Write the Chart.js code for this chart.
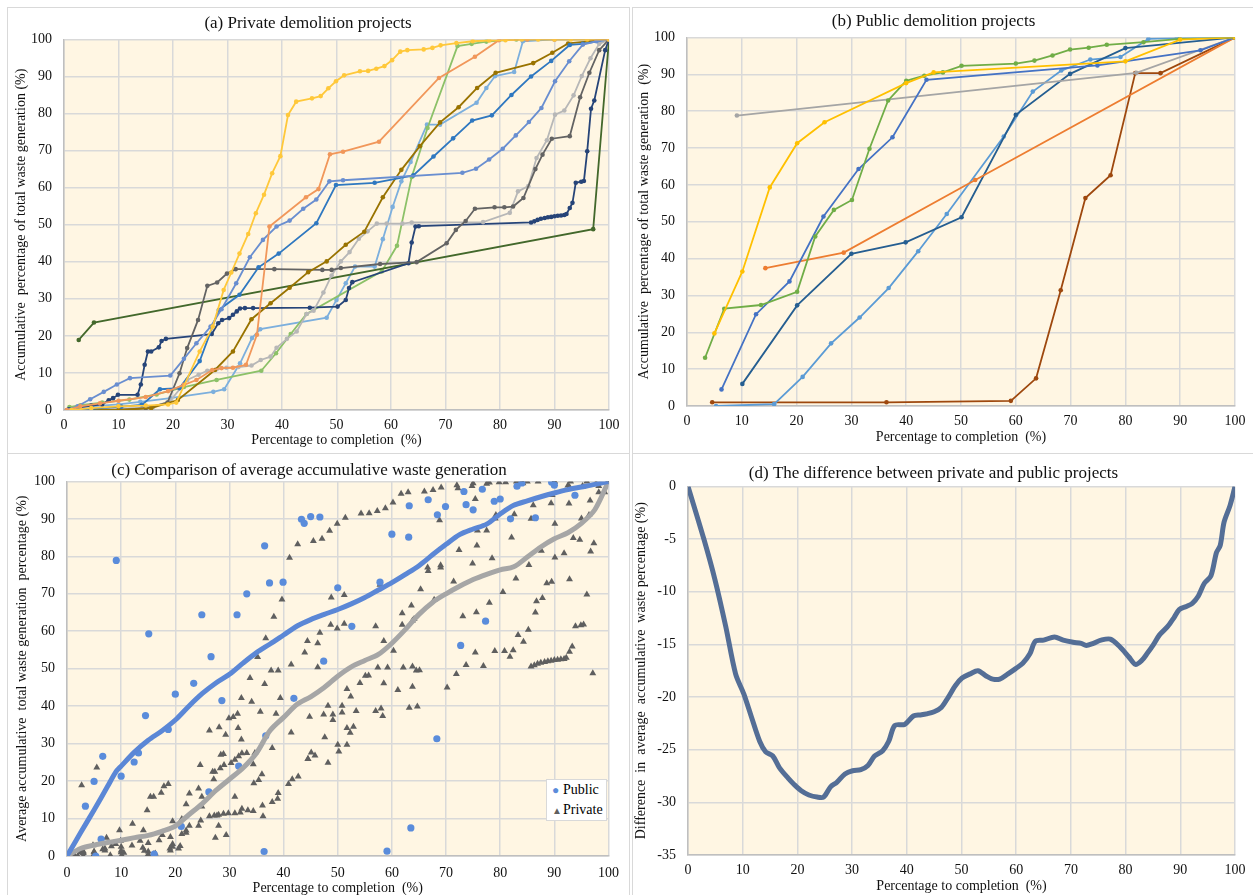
<!DOCTYPE html>
<html>
<head>
<meta charset="utf-8">
<script src="https://cdn.jsdelivr.net/npm/chart.js@4.4.1/dist/chart.umd.min.js"></script>
<style>
  body { margin: 0; background: #fff; width: 1253px; height: 895px; overflow: hidden; position: relative; }
  .frame { position: absolute; border: 1px solid #D9D9D9; box-sizing: border-box; }
  canvas { position: absolute; }
  .legend { position: absolute; background: #fff; border: 1px solid #D9D9D9; box-sizing: border-box; font-family: 'Liberation Serif', serif; font-size: 14px; color: #000; padding: 0 0 0 5px; line-height: 20px; white-space: nowrap; }
  .legend span { display: inline-block; width: 11px; }
</style>
</head>
<body>
<div class="frame" style="left:7px;top:7px;width:623px;height:447px"></div>
<div class="frame" style="left:632px;top:7px;width:622px;height:447px"></div>
<div class="frame" style="left:7px;top:453px;width:623px;height:444px"></div>
<div class="frame" style="left:632px;top:453px;width:622px;height:444px"></div>
<canvas id="chartA" width="621" height="446" style="left:7px;top:7px"></canvas>
<canvas id="chartB" width="621" height="446" style="left:632px;top:7px"></canvas>
<canvas id="chartC" width="621" height="442" style="left:7px;top:453px"></canvas>
<canvas id="chartD" width="621" height="442" style="left:632px;top:453px"></canvas>
<div class="legend" style="left:546px;top:779px;width:61px;height:42px">
  <div><span style="color:#5A8CDB;font-size:12px">&#9679;</span>Public</div>
  <div><span style="color:#5F5F5F;font-size:10px">&#9650;</span>Private</div>
</div>
<script>
// (a) private demolition projects: [percentage to completion, accumulative %]
const privYellow = [[1.4,0],[5,0.5],[10,1],[15,1.2],[19.1,1.5],[20.6,2],[24.9,15.8],[27.3,22.5],[29.3,32.4],[30.7,37.1],[32.2,42.2],[33.8,47.5],[35.2,53.1],[36.7,58.1],[38.2,63.9],[39.7,68.5],[41.1,79.6],[42.6,83.2],[45.5,84.1],[47.1,84.7],[48.5,86.8],[49.9,88.7],[51.4,90.3],[54.3,91.4],[55.8,91.5],[57.3,92.1],[58.8,92.8],[60.2,94.4],[61.7,96.7],[63,97.1],[66,97.3],[67.6,97.7],[69.1,98.4],[72,99],[75,99.5],[78,99.7],[81,99.8],[84,100],[87,100],[90,100],[93,100],[96,100],[100,100]];
const privOrange = [[0.5,0],[3,1],[6.6,1.8],[10,2.5],[15,3.5],[19.1,5.1],[22,6.8],[24.3,8.1],[27.2,10.8],[28.9,11.3],[31,11.4],[33.4,12.2],[35.4,20.3],[37.7,49.5],[44.4,57.4],[46.7,59.6],[48.8,69],[51.2,69.7],[57.8,72.4],[68.8,89.6],[75.4,95.3],[79.8,99.8],[85,100],[90,100],[100,100]];
const privBlue = [[0.5,0],[2.5,1],[4.8,2.9],[7.3,4.9],[9.7,6.9],[12.1,8.6],[19.5,9.3],[22,13.8],[24.3,18],[26.9,22.5],[28.9,27.2],[31.6,34.2],[34.1,41.2],[36.5,45.9],[39,49.5],[41.4,51.1],[43.9,54.3],[46.3,56.8],[48.7,61.7],[51.2,62],[73.1,64],[75.6,65.1],[78,67.6],[80.5,70.5],[82.9,74.1],[85.3,77.7],[87.6,81.5],[90.1,88.7],[92.7,94.1],[95.2,98.6],[97.7,99.5],[100,100]];
const privMidBlue = [[1.5,0],[5,0.3],[10.5,0.9],[14.3,1.4],[17.6,5.6],[21.2,5.9],[24.9,13.2],[28.4,27],[32.2,31.1],[35.7,38.5],[39.4,42.2],[46.3,50.4],[49.9,60.7],[57,61.3],[64.1,63.3],[67.8,68.4],[71.4,73.3],[74.9,78.1],[78.5,79.5],[82.1,85],[85.7,90],[89.4,94.2],[92.8,98.5],[95.2,98.8],[100,100]];
const privOlive = [[5,0],[10.2,0],[16,0.5],[20.9,2.7],[27.7,10.8],[31,15.8],[34.4,24.5],[37.9,28.8],[41.4,33],[44.8,37.2],[48.2,40.1],[51.7,44.6],[55.1,48.1],[58.5,57.4],[61.9,64.8],[65.3,71.2],[69,77.6],[72.4,81.7],[75.8,86.9],[79.2,91],[86.1,93.6],[89.6,96.4],[92.5,98.9],[100,100]];
const privDarkGray = [[3,0],[10,0],[15,0.5],[19,2],[21.2,9.9],[22.6,16.7],[24.6,24.3],[26.3,33.5],[28.1,34.4],[29.9,36.8],[31.5,38],[38.6,38],[47.4,37.8],[49.1,37.8],[50.8,38.3],[58,39.4],[64.7,39.9],[70.2,45],[71.9,48.6],[73.7,51],[75.4,54.3],[79,54.7],[80.8,54.7],[82.4,54.9],[84.3,57.2],[86.5,65],[87.8,68.9],[89.5,73.2],[92.8,73.9],[94.7,84.4],[96.4,91],[98.2,97.1],[100,100]];
const privLightGray = [[2,0],[8,0.2],[16.3,0.7],[19.5,2.5],[22.6,8.1],[24.7,9.5],[26.3,10.6],[28,11],[29.8,11.4],[32,11.6],[34.4,12],[36.1,13.5],[37.9,14.4],[39,16.8],[40.9,19.2],[42.7,21.2],[44.5,25.9],[45.8,26.8],[47.6,31.7],[49.1,36.3],[50.8,40.1],[52.4,42.6],[54.1,46.2],[55.7,48.2],[57.4,50.3],[59.2,50.3],[62.1,50.3],[63.8,50.6],[76.9,50.7],[81.8,53.2],[83.3,59],[85.2,60.4],[86.7,68],[88.6,72.8],[90.1,79.7],[91.8,80.8],[93.5,84.9],[95,90.1],[96.6,94.9],[98.2,98.8],[100,100]];
const privNavy = [[0.9,0.2],[3,0.8],[5,1.2],[7,1.5],[8.2,2.6],[9,3.2],[9.9,4.1],[13.5,4.1],[14.1,6.9],[14.8,12.2],[15.4,15.8],[16,15.8],[17.4,16.9],[17.9,18.6],[18.7,19.2],[27.1,20.5],[28.3,23.4],[29,24.3],[30.3,24.8],[31,25.7],[31.7,26.6],[32.3,27.4],[33.2,27.5],[34.7,27.5],[45.1,27.6],[50.2,27.9],[51.7,29.7],[52.3,32.9],[52.9,34.5],[63.2,39.6],[63.8,45.2],[64.5,49.5],[65.1,49.6],[85.7,50.6],[86.3,50.9],[86.9,51.3],[87.5,51.6],[88.2,51.8],[88.8,52],[89.4,52.1],[90,52.3],[90.6,52.4],[91.2,52.5],[91.8,52.6],[92.2,52.9],[92.8,54.5],[93.3,55.9],[93.9,61.3],[94.9,61.6],[95.4,61.8],[96,69.8],[96.7,81.3],[97.3,83.5],[99.3,97.1],[100,100]];
const privDarkGreen = [[2.7,18.9],[5.5,23.6],[97.1,48.8],[100,100]];
const privLightGreen = [[1,0.8],[3,1.3],[7,2],[12,2.8],[17,4.2],[22,6.2],[28,8.1],[36.2,10.6],[38.9,15.3],[41.6,20.5],[44.5,25.9],[58.3,37.4],[61.1,44.3],[63.8,62.9],[66.7,76.1],[72.2,98.2],[74.8,98.8],[77.5,99.4],[83,100],[100,100]];
const privLightBlue = [[1,0.3],[5,1],[10,1.5],[14,2.2],[19.5,3.2],[27.4,4.9],[29.4,5.6],[32.3,12.6],[34.5,19.4],[36,21.8],[48.2,24.9],[50,29.7],[51.7,34.2],[53.4,38.7],[57,38.7],[58.5,46.1],[60.3,54.8],[61.9,61.7],[63.6,66.9],[66.6,77],[69,77],[75.7,82.9],[77.5,86.9],[79.1,90.1],[82.6,91.2],[84.2,99.5],[90,100],[100,100]];

// (b) public demolition projects
const pubYellow = [[5,19.7],[10.1,36.5],[15.1,59.3],[20.1,71.3],[25.1,77],[40,87.6],[45,90.5],[80,93.5],[90,99.4],[100,100]];
const pubGreen = [[3.3,13.1],[6.8,26.4],[13.5,27.4],[20.1,31],[23.4,46],[26.8,53.2],[30.1,55.9],[33.3,69.8],[36.7,82.9],[40,88.2],[43.3,89.6],[46.7,90.5],[50.1,92.3],[60,92.9],[63.4,93.7],[66.7,95.1],[69.9,96.7],[73.3,97.2],[76.6,98],[83.3,98.7],[89.9,99.6],[100,100]];
const pubBlue = [[6.3,4.5],[12.6,24.9],[18.7,33.8],[24.9,51.4],[31.3,64.3],[37.5,72.9],[43.7,88.5],[74.9,92.4],[93.7,96.5],[100,100]];
const pubGray = [[9.1,78.8],[82,90.4],[100,100]];
const pubOrange = [[14.3,37.4],[28.6,41.6],[52.6,61.3],[100,100]];
const pubDarkBlue = [[10.1,6],[20.1,27.3],[30,41.3],[39.9,44.4],[50.1,51.2],[60,79],[69.9,90.1],[80,97.1],[100,100]];
const pubLightBlue = [[5.3,0],[15.9,0.5],[21.1,7.9],[26.3,17],[31.5,24],[36.8,32],[42.2,42],[47.4,52.1],[57.8,73.1],[63.1,85.3],[68.3,91],[73.6,94],[79.1,94.7],[84.2,99.6],[89.4,99.8],[100,100]];
const pubBrown = [[4.6,1],[36.4,1],[59.1,1.4],[63.7,7.5],[68.2,31.4],[72.7,56.4],[77.3,62.6],[81.8,90.3],[86.4,90.3],[100,100]];

// (c) public project points as plotted in the comparison panel
const publicPoints = [[3.4,13.3],[5,19.9],[5.3,0],[6.3,4.5],[6.6,26.6],[9.1,78.9],[10,21.3],[12.4,25.1],[13.2,27.5],[14.5,37.5],[15.1,59.3],[16.1,0.5],[18.7,33.8],[20,43.2],[21.1,7.9],[23.4,46.1],[24.9,64.4],[26.2,17.1],[26.6,53.2],[28.6,41.5],[31.4,64.4],[31.7,24],[33.2,70],[36.4,1.2],[36.5,82.8],[36.7,32.1],[37.4,72.9],[39.9,73.1],[41.9,42.1],[43.3,89.9],[43.8,88.8],[45,90.6],[46.7,90.5],[47.4,52],[50,71.6],[52.6,61.3],[57.8,73.1],[59.1,1.3],[60,85.9],[63.1,85.1],[63.2,93.5],[63.5,7.5],[66.7,95.1],[68.3,31.3],[68.4,91.1],[69.9,93.3],[72.7,56.2],[73.3,97.3],[73.7,93.8],[75,92.4],[76.7,97.9],[77.3,62.7],[78.9,94.7],[80,95.3],[81.9,90],[83.1,98.7],[84,99.6],[86.5,90.3],[89.5,99.8],[90,99],[93.8,96.3],[100,100]];

// (c) average accumulative waste generation
const publicAverage = [[0,0],[2.5,6.2],[5,12.3],[7.5,18.6],[9,22.4],[10,24],[12.5,27.8],[15,30.9],[17.5,33.4],[20,36.3],[22.5,40],[25,43.4],[27.5,46.2],[30,48.5],[32.5,51.5],[35,54.3],[37.5,56.6],[40,59],[42.5,61.4],[45,63.1],[47.5,64.5],[50,65.8],[52.5,67.3],[55,69],[57.5,71],[60,73],[62.5,75.2],[65,77.5],[67.5,80.4],[70,83.2],[72.5,85.8],[75,87.3],[77.5,88.6],[80,91.3],[82.5,93.6],[85,94.8],[87.5,95.9],[90,96.9],[92.5,97.8],[95,98.5],[97.5,99.2],[100,100]];
const privateAverage = [[0,0],[2.5,2],[5,2.9],[7.5,3.6],[10,4.2],[12.5,4.9],[15,5.5],[17.5,6.6],[20,8],[22.5,11],[25,14],[27.5,17.5],[30,20.5],[32.5,23.5],[35,27.5],[37.5,33.5],[40,37],[42.5,40.5],[45,42.5],[47.5,45],[50,48],[52.5,50.5],[55,52.2],[57.5,53.8],[60,56.8],[62.5,60.5],[65,64.5],[67.5,67.7],[70,70],[72.5,72],[75,73.8],[77.5,75.2],[80,76.4],[82.5,77.2],[85,79.8],[87.5,82.5],[90,84.7],[92.5,86.3],[95,88.8],[97.5,92.5],[100,100]];

// (d) difference private - public
const differenceCurve = [[0,0],[2.9,-5],[4.9,-8.8],[6.9,-13.3],[8.7,-17.8],[10.2,-19.7],[11.6,-21.9],[13.1,-24.2],[14.2,-25.2],[15.5,-25.6],[16.7,-26.7],[18.3,-27.7],[19.4,-28.3],[20.7,-28.9],[22.1,-29.3],[23.6,-29.5],[24.8,-29.5],[26.1,-28.5],[27.2,-28.1],[28.7,-27.3],[30.1,-27],[31.6,-26.9],[32.9,-26.5],[34.1,-25.6],[35.6,-25.1],[36.7,-24.2],[37.8,-22.7],[39.6,-22.6],[41.2,-21.8],[42.5,-21.7],[43.6,-21.6],[45,-21.4],[46.3,-21],[47.6,-20],[48.9,-18.9],[50.1,-18.2],[51.6,-17.8],[53,-17.5],[54.5,-18],[55.7,-18.3],[57,-18.3],[58.5,-17.8],[59.9,-17.3],[61.2,-16.8],[62.5,-15.9],[63.5,-14.7],[65,-14.6],[67,-14.3],[68.6,-14.6],[70.4,-14.8],[71.9,-14.9],[72.8,-15.1],[74.1,-14.9],[75.5,-14.6],[77.2,-14.5],[78.9,-15.2],[80.6,-16.2],[81.8,-16.9],[83,-16.5],[83.9,-15.9],[85,-15.1],[86.2,-14.1],[87.7,-13.3],[88.8,-12.5],[89.8,-11.7],[91.1,-11.4],[92.2,-11.1],[93.3,-10.4],[94.4,-9.2],[95.6,-8.5],[96.6,-6.3],[97.3,-5.6],[98,-3.4],[99.1,-1.8],[100,0]];

const privateSeries = [privYellow, privOrange, privBlue, privMidBlue, privOlive, privDarkGray, privLightGray, privNavy, privDarkGreen, privLightGreen, privLightBlue];
const privateColors = ['#FFC83A', '#F1975A', '#698ED0', '#2F78C0', '#997300', '#636363', '#B7B7B7', '#264478', '#43682B', '#8CC168', '#7CAFDD'];
const publicSeries = [pubYellow, pubGreen, pubBlue, pubGray, pubOrange, pubDarkBlue, pubLightBlue, pubBrown];
const publicColors = ['#FFC000', '#70AD47', '#4472C4', '#A5A5A5', '#ED7D31', '#255E91', '#5B9BD5', '#9E480E'];

const FONT = 'Liberation Serif';
const toXY = arr => arr.map(p => ({ x: p[0], y: p[1] }));

Chart.register({
  id: 'plotBg',
  beforeDraw(chart) {
    const a = chart.chartArea;
    chart.ctx.save();
    chart.ctx.fillStyle = '#FFF6E3';
    chart.ctx.fillRect(a.left, a.top, a.width, a.height);
    chart.ctx.restore();
  }
});

// builds the options; the box sizes pin the plot area to the reference
function makeOptions(o) {
  return {
    responsive: false,
    animation: false,
    layout: { padding: { left: 0, right: o.right, top: 0, bottom: 0 } },
    plugins: {
      legend: { display: false },
      tooltip: { enabled: false },
      title: {
        display: true,
        text: o.title,
        color: '#111',
        font: { family: FONT, size: 17, weight: 'normal', lineHeight: 1.2 },
        padding: { top: o.titleTop, bottom: o.titleBottom }
      }
    },
    scales: {
      x: {
        type: 'linear', min: 0, max: 100,
        afterFit: s => { s.height = o.xHeight; },
        grid: { color: '#D9D9D9', lineWidth: 1.5, drawTicks: false },
        border: { color: '#BFBFBF', width: 1.5 },
        ticks: { stepSize: 10, padding: o.xTickPad, color: '#111', font: { family: FONT, size: 14 } },
        title: { display: true, text: 'Percentage to completion  (%)', color: '#111', font: { family: FONT, size: 14, lineHeight: 1 }, padding: { top: 0, bottom: o.xTitlePad } }
      },
      y: {
        type: 'linear', min: o.yMin, max: o.yMax,
        afterFit: s => { s.width = o.yWidth; },
        grid: { color: '#D9D9D9', lineWidth: 1.5, drawTicks: false },
        border: { color: '#BFBFBF', width: 1.5 },
        ticks: { stepSize: o.yStep, padding: 12, color: '#111', font: { family: FONT, size: 14 } },
        title: { display: true, text: o.yTitle, color: '#111', font: { family: FONT, size: 14, lineHeight: 1.2 }, padding: { top: o.yTitlePad, bottom: 0 } }
      }
    }
  };
}

function lineSets(series, colors) {
  return series.map((s, i) => ({
    data: toXY(s),
    borderColor: colors[i],
    backgroundColor: colors[i],
    borderWidth: 1.8,
    pointRadius: 2.3,
    pointBorderWidth: 0,
    tension: 0
  }));
}

new Chart(document.getElementById('chartA'), {
  type: 'line',
  data: { datasets: lineSets(privateSeries, privateColors) },
  options: makeOptions({
    title: '(a) Private demolition projects', right: 19, titleTop: 6, titleBottom: 6,
    xHeight: 43, xTickPad: 7, xTitlePad: 6, yMin: 0, yMax: 100, yStep: 10, yWidth: 57, yTitlePad: 6,
    yTitle: 'Accumulative  percentage of total waste generation (%)'
  })
});

new Chart(document.getElementById('chartB'), {
  type: 'line',
  data: { datasets: lineSets(publicSeries, publicColors) },
  options: makeOptions({
    title: '(b) Public demolition projects', right: 18, titleTop: 4, titleBottom: 6,
    xHeight: 47, xTickPad: 7, xTitlePad: 9, yMin: 0, yMax: 100, yStep: 10, yWidth: 55, yTitlePad: 4,
    yTitle: 'Accumulative  percentage of total waste generation  (%)'
  })
});

new Chart(document.getElementById('chartC'), {
  type: 'line',
  data: {
    datasets: [
      { data: toXY(publicAverage), borderColor: '#5B87D6', borderWidth: 5, pointRadius: 0, tension: 0.3 },
      { data: toXY(privateAverage), borderColor: '#A6A6A6', borderWidth: 5, pointRadius: 0, tension: 0.3 },
      { type: 'scatter', data: toXY(publicPoints), backgroundColor: '#5A8CDB', pointRadius: 3.6, pointBorderWidth: 0, showLine: false },
      { type: 'scatter', data: toXY(privateSeries.flat()), backgroundColor: '#5F5F5F', pointStyle: 'triangle', pointRadius: 4, pointBorderWidth: 0, showLine: false }
    ]
  },
  options: makeOptions({
    title: '(c) Comparison of average accumulative waste generation', right: 17, titleTop: 7, titleBottom: 1,
    xHeight: 39, xTickPad: 9, xTitlePad: 0, yMin: 0, yMax: 100, yStep: 10, yWidth: 60, yTitlePad: 7,
    yTitle: 'Average accumulative  total waste generation  percentage (%)'
  })
});

new Chart(document.getElementById('chartD'), {
  type: 'line',
  data: {
    datasets: [{ data: toXY(differenceCurve), borderColor: '#546E96', borderWidth: 5, pointRadius: 0, tension: 0.3 }]
  },
  options: makeOptions({
    title: '(d) The difference between private and public projects', right: 18, titleTop: 10, titleBottom: 3,
    xHeight: 40, xTickPad: 7, xTitlePad: 2, yMin: -35, yMax: 0, yStep: 5, yWidth: 56, yTitlePad: 1,
    yTitle: 'Difference  in  average  accumulative  waste percentage (%)'
  })
});
</script>
</body>
</html>
